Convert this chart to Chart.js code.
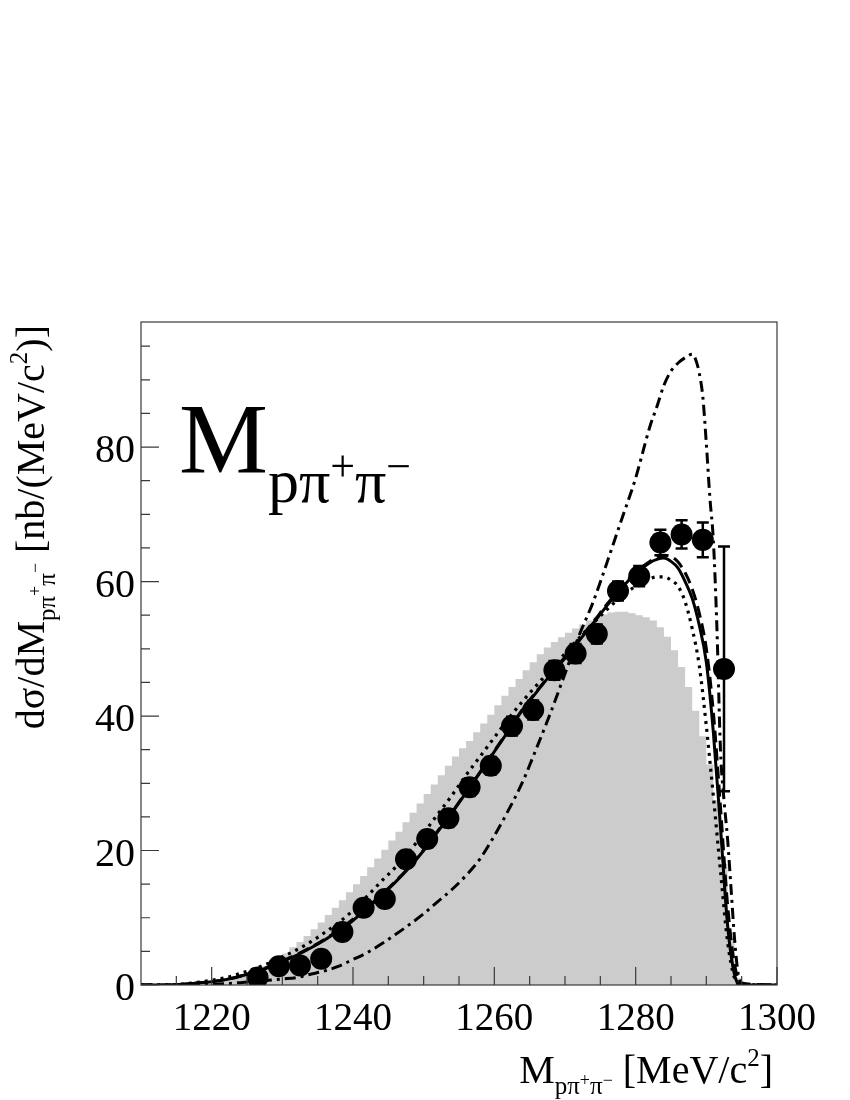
<!DOCTYPE html>
<html><head><meta charset="utf-8">
<script src="https://cdn.jsdelivr.net/npm/chart.js@4.4.1/dist/chart.umd.min.js"></script>
<style>html,body{margin:0;padding:0;background:#fff}#wrap{width:850px;height:1100px}</style>
</head><body><div id="wrap"><canvas id="c" width="850" height="1100"></canvas></div>
<script>
// ---------- DATA ----------
const xRange = [1210, 1300];
const yRange = [0, 98.6];
const xMajorTicks = [1220, 1240, 1260, 1280, 1300];
const xTickLabels = ['1220', '1240', '1260', '1280', '1300'];
const xMinorTicks = [1215, 1220, 1225, 1230, 1235, 1240, 1245, 1250, 1255, 1260, 1265, 1270, 1275, 1280, 1285, 1290, 1295];
const yMajorTicks = [0, 20, 40, 60, 80];
const yTickLabels = ['0', '20', '40', '60', '80'];
const yMinorTicks = [5, 10, 15, 20, 25, 30, 35, 40, 45, 50, 55, 60, 65, 70, 75, 80, 85, 90, 95];

// data points (3 MeV bins)
const pointMass = [1226.5, 1229.5, 1232.5, 1235.5, 1238.5, 1241.5, 1244.5, 1247.5, 1250.5, 1253.5, 1256.5, 1259.5,
  1262.5, 1265.5, 1268.5, 1271.5, 1274.5, 1277.5, 1280.5, 1283.5, 1286.5, 1289.5, 1292.5];
const pointValue = [1.1, 2.8, 2.9, 3.9, 7.9, 11.5, 12.8, 18.7, 21.7, 24.8, 29.4, 32.6,
  38.5, 40.9, 46.8, 49.3, 52.2, 58.6, 60.8, 65.8, 67.0, 66.2, 47.0];
const pointError = [0.6, 0.7, 0.7, 0.8, 1.0, 1.1, 1.1, 1.2, 1.2, 1.3, 1.3, 1.3,
  1.4, 1.4, 1.4, 1.4, 1.4, 1.4, 1.5, 1.9, 2.1, 2.6, 18.2];

// grey histogram (1 MeV bins, left edges)
const histEdges = [1210, 1219, 1220, 1221, 1222, 1223, 1224, 1225, 1226, 1227, 1228, 1229, 1230, 1231, 1232, 1233, 1234,
  1235, 1236, 1237, 1238, 1239, 1240, 1241, 1242, 1243, 1244, 1245, 1246, 1247, 1248, 1249, 1250, 1251, 1252,
  1253, 1254, 1255, 1256, 1257, 1258, 1259, 1260, 1261, 1262, 1263, 1264, 1265, 1266, 1267, 1268, 1269, 1270,
  1271, 1272, 1273, 1274, 1275, 1276, 1277, 1278, 1279, 1280, 1281, 1282, 1283, 1284, 1285, 1286, 1287, 1288,
  1289, 1290, 1291, 1292, 1293, 1294, 1295, 1300];
const histValue = [0, 0.1, 0.3, 0.5, 0.8, 1.1, 1.4, 1.8, 2.3, 2.8, 3.3, 4.0, 4.7, 5.6, 6.4, 7.3, 8.3,
  9.3, 10.4, 11.5, 12.6, 13.8, 15.0, 16.2, 17.5, 18.8, 20.1, 21.5, 22.8, 24.2, 25.6, 27.0, 28.4, 29.8, 31.2,
  32.6, 34.0, 35.2, 36.3, 37.6, 38.9, 40.2, 41.6, 43.0, 44.3, 45.5, 46.8, 48.0, 49.2, 50.2, 51.0, 51.7, 52.4,
  53.0, 53.6, 54.2, 54.7, 55.1, 55.4, 55.5, 55.5, 55.3, 55.0, 54.7, 54.2, 53.2, 51.8, 49.8, 47.3, 44.3, 40.8,
  37.0, 32.8, 27.5, 18.0, 7.0, 1.0, 0, 0];

// model curves
const curveMass = [1210, 1214, 1216, 1218, 1220, 1222, 1224, 1226, 1228, 1230, 1232, 1234, 1236, 1238, 1240,
  1242, 1244, 1246, 1248, 1250, 1252, 1254, 1256, 1258, 1260, 1262, 1264, 1266, 1268, 1270, 1272, 1274,
  1276, 1278, 1280, 1282, 1283, 1284, 1285, 1286, 1287, 1288, 1289, 1290, 1291, 1292, 1293, 1294, 1295, 1300];
const solidValue = [0, 0, 0.1, 0.3, 0.5, 0.8, 1.3, 1.9, 2.6, 3.5, 4.4, 5.5, 6.7, 8.1, 9.6,
  11.4, 13.3, 15.3, 17.5, 20.0, 22.8, 25.6, 28.6, 31.6, 34.7, 37.8, 40.9, 43.6, 46.2, 48.6, 51.2, 53.8,
  56.5, 59.0, 61.2, 62.8, 63.3, 63.5, 63.0, 62.0, 60.0, 57.5, 53.5, 48.0, 37.5, 23.5, 9.0, 1.5, 0, 0];
const dashedValue = [0, 0, 0.1, 0.3, 0.5, 0.8, 1.3, 1.9, 2.7, 3.6, 4.5, 5.6, 6.8, 8.2, 9.8,
  11.5, 13.4, 15.4, 17.6, 20.1, 22.9, 25.7, 28.7, 31.7, 34.8, 37.9, 41.0, 43.7, 46.3, 48.8, 51.4, 54.0,
  56.7, 59.2, 61.4, 63.0, 63.6, 63.9, 63.7, 62.9, 61.3, 58.9, 55.3, 50.0, 40.5, 26.5, 12.0, 3.0, 0.3, 0];
const dottedValue = [0, 0, 0.15, 0.4, 0.7, 1.1, 1.7, 2.4, 3.2, 4.2, 5.2, 6.4, 7.8, 9.3, 11.1,
  13.2, 15.4, 17.5, 19.9, 22.6, 25.4, 28.2, 31.2, 34.0, 36.8, 39.6, 42.2, 44.6, 46.9, 49.3, 51.6, 53.8,
  55.9, 57.8, 59.3, 60.4, 60.7, 60.7, 60.2, 59.3, 57.0, 53.0, 47.5, 38.5, 28.0, 17.0, 6.5, 1.0, 0, 0];
const dashDotMass = [1210, 1216, 1218, 1220, 1222, 1224, 1226, 1228, 1230, 1232, 1234, 1236, 1238, 1240, 1242,
  1244, 1246, 1248, 1250, 1252, 1254, 1256, 1258, 1260, 1262, 1264, 1266, 1268, 1270, 1272, 1274, 1276,
  1278, 1280, 1281, 1282, 1283, 1284, 1285, 1286, 1287, 1288, 1288.5, 1289, 1289.5, 1290, 1290.5, 1291,
  1291.5, 1292, 1292.5, 1293, 1293.5, 1294, 1294.5, 1295, 1296, 1300];
const dashDotValue = [0, 0, 0.05, 0.1, 0.2, 0.35, 0.5, 0.7, 0.9, 1.1, 1.6, 2.1, 2.8, 3.8, 4.8,
  6.1, 7.5, 9.0, 10.6, 12.4, 14.2, 16.3, 18.8, 22.2, 26.0, 30.2, 35.3, 40.6, 46.3, 52.0, 57.0, 63.0,
  69.2, 75.4, 79.2, 83.0, 86.0, 89.2, 91.3, 92.5, 93.3, 93.8, 93.0, 91.0, 87.5, 80.5, 72.5, 66.0,
  53.0, 35.0, 27.5, 21.8, 14.3, 6.8, 1.7, 0.2, 0, 0];

// ---------- helpers ----------
const FONT = '"Liberation Serif","Times New Roman",Times,serif';
const pairs = (xa, ya) => xa.map((x, i) => ({x: x, y: ya[i]}));

function segWidth(ctx, segs) {
  let w = 0;
  for (const s of segs) { ctx.font = s.size + 'px ' + FONT; w += ctx.measureText(s.t).width + (s.gap || 0); }
  return w;
}
function drawRich(ctx, segs, x, y) {
  let cx = x;
  for (const s of segs) {
    ctx.font = s.size + 'px ' + FONT;
    ctx.fillText(s.t, cx, y + (s.dy || 0));
    cx += ctx.measureText(s.t).width + (s.gap || 0);
  }
}
function massLabel(main, sub, sup, subDy, supDy) {
  return [
    {t: 'M', size: main},
    {t: 'p', size: sub, dy: subDy},
    {t: '\u03c0', size: sub, dy: subDy},
    {t: '+', size: sup, dy: supDy},
    {t: '\u03c0', size: sub, dy: subDy},
    {t: '\u2212', size: sup, dy: supDy}
  ];
}

const errorBarPlugin = {
  id: 'errorBars',
  afterDatasetsDraw(chart) {
    const ctx = chart.ctx, xs = chart.scales.x, ys = chart.scales.y;
    ctx.save();
    ctx.strokeStyle = '#000';
    ctx.lineWidth = 2.5;
    pointMass.forEach((m, i) => {
      const px = xs.getPixelForValue(m);
      const y1 = ys.getPixelForValue(pointValue[i] - pointError[i]);
      const y2 = ys.getPixelForValue(pointValue[i] + pointError[i]);
      ctx.beginPath();
      ctx.moveTo(px, y1); ctx.lineTo(px, y2);
      ctx.moveTo(px - 6, y1); ctx.lineTo(px + 6, y1);
      ctx.moveTo(px - 6, y2); ctx.lineTo(px + 6, y2);
      ctx.stroke();
    });
    ctx.restore();
  }
};

const framePlugin = {
  id: 'rootFrame',
  afterDraw(chart) {
    const ctx = chart.ctx, xs = chart.scales.x, ys = chart.scales.y, a = chart.chartArea;
    ctx.save();
    ctx.strokeStyle = '#3a3a3a';
    ctx.lineWidth = 1.2;
    ctx.strokeRect(a.left, a.top, a.right - a.left, a.bottom - a.top);
    ctx.beginPath();
    xMinorTicks.forEach(v => { const p = xs.getPixelForValue(v); ctx.moveTo(p, a.bottom); ctx.lineTo(p, a.bottom - 9); });
    xMajorTicks.forEach(v => { const p = xs.getPixelForValue(v); ctx.moveTo(p, a.bottom); ctx.lineTo(p, a.bottom - 18); });
    yMinorTicks.forEach(v => { const p = ys.getPixelForValue(v); ctx.moveTo(a.left, p); ctx.lineTo(a.left + 9, p); });
    yMajorTicks.forEach(v => { const p = ys.getPixelForValue(v); ctx.moveTo(a.left, p); ctx.lineTo(a.left + 18, p); });
    ctx.stroke();

    ctx.fillStyle = '#000';
    ctx.font = '40px ' + FONT;
    ctx.textAlign = 'right';
    ctx.textBaseline = 'alphabetic';
    yMajorTicks.forEach((v, i) => ctx.fillText(yTickLabels[i], a.left - 6, ys.getPixelForValue(v) + 15));
    ctx.font = '39px ' + FONT;
    ctx.textAlign = 'center';
    xMajorTicks.forEach((v, i) => ctx.fillText(xTickLabels[i], xs.getPixelForValue(v), a.bottom + 45));

    ctx.textAlign = 'left';
    // x-axis title
    const xt = massLabel(40, 25, 18, 11, 3).concat([
      {t: ' [MeV/c', size: 40}, {t: '2', size: 25, dy: -17}, {t: ']', size: 40}]);
    drawRich(ctx, xt, a.right - 4 - segWidth(ctx, xt), a.bottom + 98);

    // y-axis title (rotated)
    const yt = [{t: 'd\u03c3/d', size: 40}].concat(massLabel(40, 25, 18, 11, -3)).concat([
      {t: ' [nb/(MeV/c', size: 40}, {t: '2', size: 25, dy: -17}, {t: ')]', size: 40}]);
    ctx.save();
    ctx.translate(44, a.top + 3);
    ctx.rotate(-Math.PI / 2);
    drawRich(ctx, yt, -segWidth(ctx, yt), 0);
    ctx.restore();

    // big label in the pad
    const big = massLabel(100, 62, 44, 30, 9);
    drawRich(ctx, big, 179, 472);
    ctx.restore();
  }
};

new Chart(document.getElementById('c'), {
  type: 'line',
  data: {
    datasets: [
      {label: 'phase space', data: pairs(histEdges, histValue), stepped: 'before', fill: 'origin',
       backgroundColor: '#cccccc', borderColor: 'rgba(0,0,0,0)', borderWidth: 0, pointRadius: 0, order: 10},
      {label: 'model dotted', data: pairs(curveMass, dottedValue), borderColor: '#000', borderWidth: 3.2,
       borderDash: [3, 5], borderCapStyle: 'butt', cubicInterpolationMode: 'monotone', pointRadius: 0, fill: false, order: 6},
      {label: 'model dashed', data: pairs(curveMass, dashedValue), borderColor: '#000', borderWidth: 3,
       borderDash: [12, 6], cubicInterpolationMode: 'monotone', pointRadius: 0, fill: false, order: 5},
      {label: 'model solid', data: pairs(curveMass, solidValue), borderColor: '#000', borderWidth: 3,
       cubicInterpolationMode: 'monotone', pointRadius: 0, fill: false, order: 4},
      {label: 'model dash-dot', data: pairs(dashDotMass, dashDotValue), borderColor: '#000', borderWidth: 3,
       borderDash: [11, 5, 3, 5], cubicInterpolationMode: 'monotone', pointRadius: 0, fill: false, order: 3},
      {label: 'data', data: pairs(pointMass, pointValue), showLine: false, pointRadius: 11,
       pointBackgroundColor: '#000', pointBorderColor: '#000', pointBorderWidth: 0, order: 1}
    ]
  },
  options: {
    responsive: false,
    animation: false,
    events: [],
    layout: {padding: {left: 141, top: 322, right: 73, bottom: 115}},
    scales: {
      x: {type: 'linear', min: xRange[0], max: xRange[1], display: false},
      y: {type: 'linear', min: yRange[0], max: yRange[1], display: false}
    },
    plugins: {legend: {display: false}, tooltip: {enabled: false}}
  },
  plugins: [errorBarPlugin, framePlugin]
});
</script></body></html>
